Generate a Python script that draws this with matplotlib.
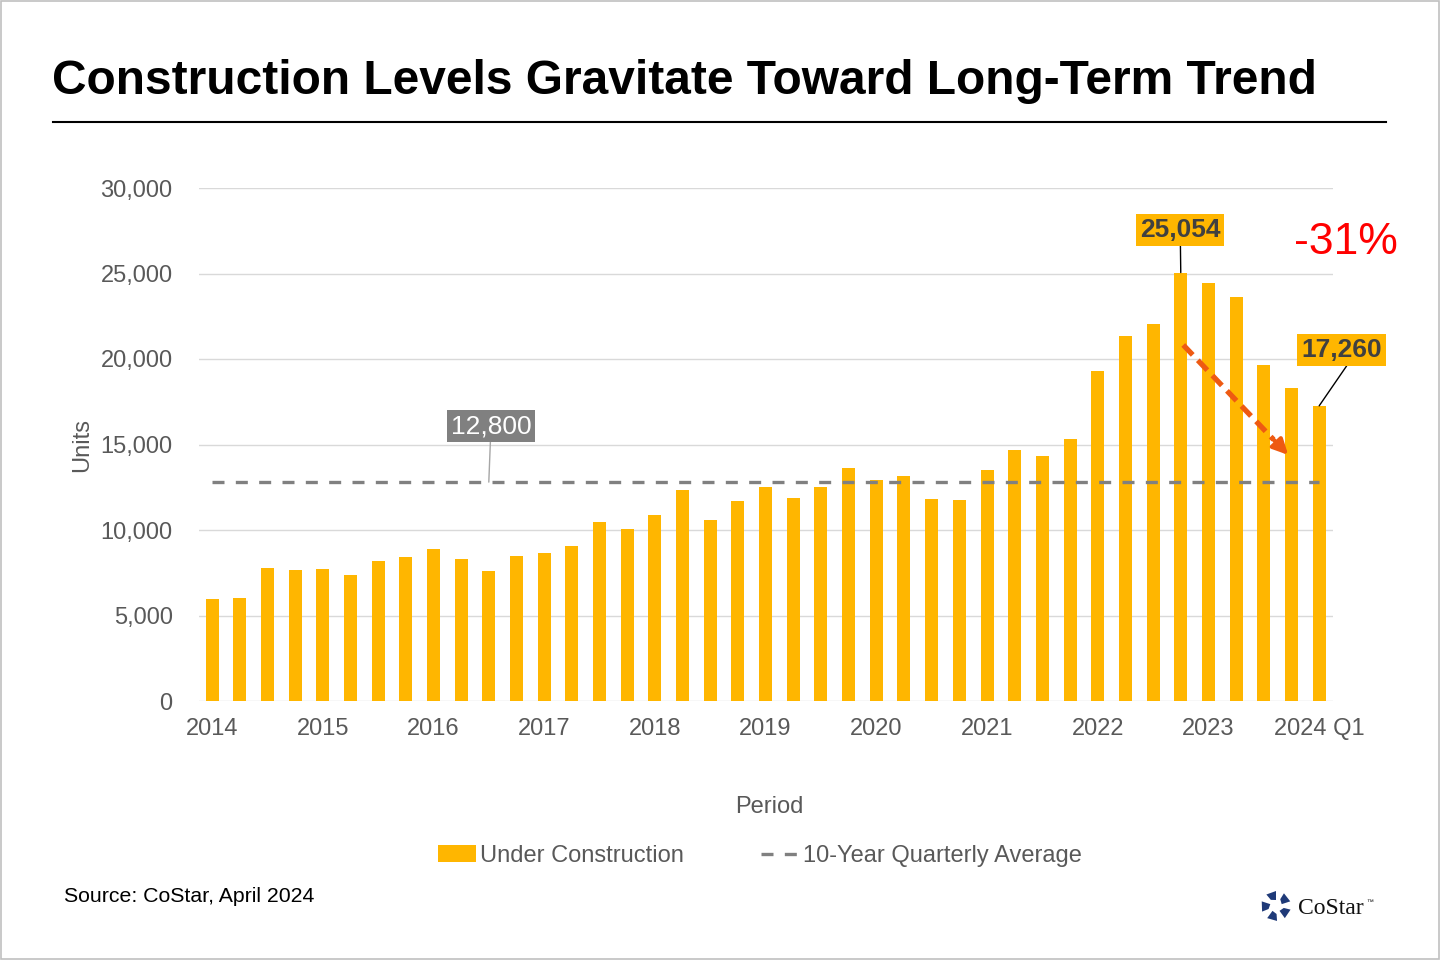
#!/usr/bin/env python3

import numpy as np
from matplotlib import lines, patches
from matplotlib.pyplot import figure, savefig, close, rcParams

# quarterly units under construction, 2014 Q1 .. 2024 Q1
years = list(range(2014, 2025))
quarters = ["{} Q{}".format(y, q) for y in years for q in range(1, 5)][:41]
under_construction = [
    5980, 6020, 7770, 7660, 7710, 7360, 8180, 8420, 8890, 8300, 7600,
    8490, 8650, 9060, 10470, 10080, 10880, 12360, 10600, 11720, 12520,
    11870, 12520, 13630, 12930, 13160, 11820, 11780, 13530, 14650, 14350,
    15350, 19310, 21320, 22070, 25054, 24470, 23650, 19670, 18320, 17260,
]
ten_year_avg = 12800
peak_label = "25,054"
last_label = "17,260"
avg_label = "12,800"
change_label = "-31%"
tick_labels = [q[:4] if i < 40 else q for i, q in enumerate(quarters) if i % 4 == 0]
yticks = [0, 5000, 10000, 15000, 20000, 25000, 30000]

GOLD = "#FFB600"
GREY = "#808080"
TXT = "#595959"

rcParams["font.family"] = ["Liberation Sans", "DejaVu Sans"]


def setup():
    fig = figure(figsize=(14.4, 9.6), dpi=100)
    ax = fig.add_axes([199 / 1440, 1 - 701 / 960, 1134 / 1440, 513 / 960])
    x = np.arange(len(quarters))
    bars = ax.bar(x, under_construction, width=0.47, color=GOLD, zorder=2,
                  label="Under Construction")
    avg, = ax.plot([x[0], x[-1]], [ten_year_avg, ten_year_avg], color=GREY,
                   lw=2.4, ls=(0, (3.6, 3.4)), zorder=3,
                   label="10-Year Quarterly Average")
    ax.set_xlim(-0.47, 40.5)
    ax.set_ylim(0, 30000)
    ax.set_yticks(yticks)
    ax.set_yticklabels(["{:,}".format(v) for v in yticks])
    ax.set_xticks(x[::4])
    ax.set_xticklabels(tick_labels)
    ax.tick_params(length=0, labelsize=17, colors=TXT)
    ax.tick_params(axis="y", pad=19)
    ax.tick_params(axis="x", pad=12)
    ax.grid(axis="y", color="#d9d9d9", lw=1, zorder=0)
    ax.set_axisbelow(True)
    for s in ax.spines.values():
        s.set_visible(False)
    ax.set_ylabel("Units", fontsize=17, color=TXT)
    ax.yaxis.set_label_coords(-0.093, 0.5)
    ax.set_xlabel("Period", fontsize=17, color=TXT)
    ax.xaxis.set_label_coords(0.503, -0.185)
    return fig, ax, x, [bars, avg]


def annotate(ax, x):
    ax.annotate(avg_label, xy=(10.0, ten_year_avg), xytext=(10.08, 16080),
                ha="center", va="center", fontsize=19, color="white",
                bbox=dict(boxstyle="square,pad=0.15", fc=GREY, ec="none"),
                arrowprops=dict(arrowstyle="-", color="#a6a6a6", lw=1,
                                shrinkA=0, shrinkB=0), zorder=5)
    i = 35
    ax.annotate(peak_label, xy=(x[i], under_construction[i]),
                xytext=(34.98, 27540), ha="center", va="center",
                fontsize=19, fontweight="bold", color="#404040",
                bbox=dict(boxstyle="square,pad=0.15", fc=GOLD, ec="none"),
                arrowprops=dict(arrowstyle="-", color="k", lw=1,
                                shrinkA=0, shrinkB=0), zorder=5)
    i = 40
    ax.annotate(last_label, xy=(x[i], under_construction[i]),
                xytext=(40.8, 20530), ha="center", va="center",
                fontsize=19, fontweight="bold", color="#404040",
                bbox=dict(boxstyle="square,pad=0.15", fc=GOLD, ec="none"),
                arrowprops=dict(arrowstyle="-", color="k", lw=1,
                                shrinkA=0, shrinkB=0, relpos=(0.6, 0)),
                zorder=5, annotation_clip=False)
    ax.text(40.97, 26840, change_label, ha="center", va="center",
            fontsize=32, color="#FF0000", clip_on=False)
    # dashed arrow from the peak down
    x0, y0, x1, y1 = 35.09, 20820, 38.88, 14390
    ax.plot([x0, x0 + (x1 - x0) * 0.86], [y0, y0 + (y1 - y0) * 0.86],
            color="#EE5A12", lw=3.8, ls=(0, (2.6, 1.4)), zorder=6,
            solid_capstyle="butt", dash_capstyle="butt")
    ax.annotate("", xy=(x1, y1), xytext=(x0 + (x1 - x0) * 0.85, y0 + (y1 - y0) * 0.85),
                arrowprops=dict(arrowstyle="-|>,head_length=0.9,head_width=0.45",
                                color="#EE5A12", lw=3, shrinkA=0, shrinkB=0),
                zorder=6)


def decorate(fig, handles):
    fig.text(52 / 1440, 1 - 81 / 960,
             "Construction Levels Gravitate Toward Long-Term Trend",
             fontsize=34.5, fontweight="bold", color="black", va="center", ha="left")
    fig.add_artist(lines.Line2D([53 / 1440, 1386 / 1440], [1 - 122 / 960] * 2,
                                color="black", lw=1.5))
    fig.add_artist(patches.Rectangle((0.0005, 0.0008), 0.999, 0.9985,
                                     fill=False, ec="#c0c0c0", lw=1.2,
                                     transform=fig.transFigure))
    leg = fig.legend(handles, [h.get_label() for h in handles], loc="center",
                     ncol=2, bbox_to_anchor=(760 / 1440, 1 - 856 / 960),
                     frameon=False, fontsize=17, handlelength=1.6,
                     handleheight=0.7, handletextpad=0.15, columnspacing=3.3)
    for t in leg.get_texts():
        t.set_color(TXT)
    fig.text(64 / 1440, 1 - 896 / 960, "Source: CoStar, April 2024",
             fontsize=15.3, color="black", va="center", ha="left")
    # CoStar logo
    cx, cy = 1276, 906
    for k in range(5):
        a = np.deg2rad(90 + 72 * k)
        b = a + np.deg2rad(40)
        pts = [
            (cx + 6 * np.cos(a), cy - 6 * np.sin(a)),
            (cx + 15 * np.cos(a), cy - 15 * np.sin(a)),
            (cx + 15 * np.cos(b), cy - 15 * np.sin(b)),
            (cx + 8 * np.cos(b), cy - 8 * np.sin(b)),
        ]
        pts = [(px / 1440, 1 - py / 960) for px, py in pts]
        fig.add_artist(patches.Polygon(pts, closed=True, fc="#1F3A78", ec="none",
                                       transform=fig.transFigure))
    fig.text(1298 / 1440, 1 - 908 / 960, "CoStar", fontsize=17,
             family=["Liberation Serif", "DejaVu Serif"], color="#111111",
             va="center", ha="left")
    fig.text(1366 / 1440, 1 - 903 / 960, "\u2122", fontsize=5,
             color="#111111", va="center", ha="left")


def main():
    fig, ax, x, handles = setup()
    annotate(ax, x)
    decorate(fig, handles)
    savefig("out.png", dpi=100)
    close()


if __name__ == "__main__":
    main()
